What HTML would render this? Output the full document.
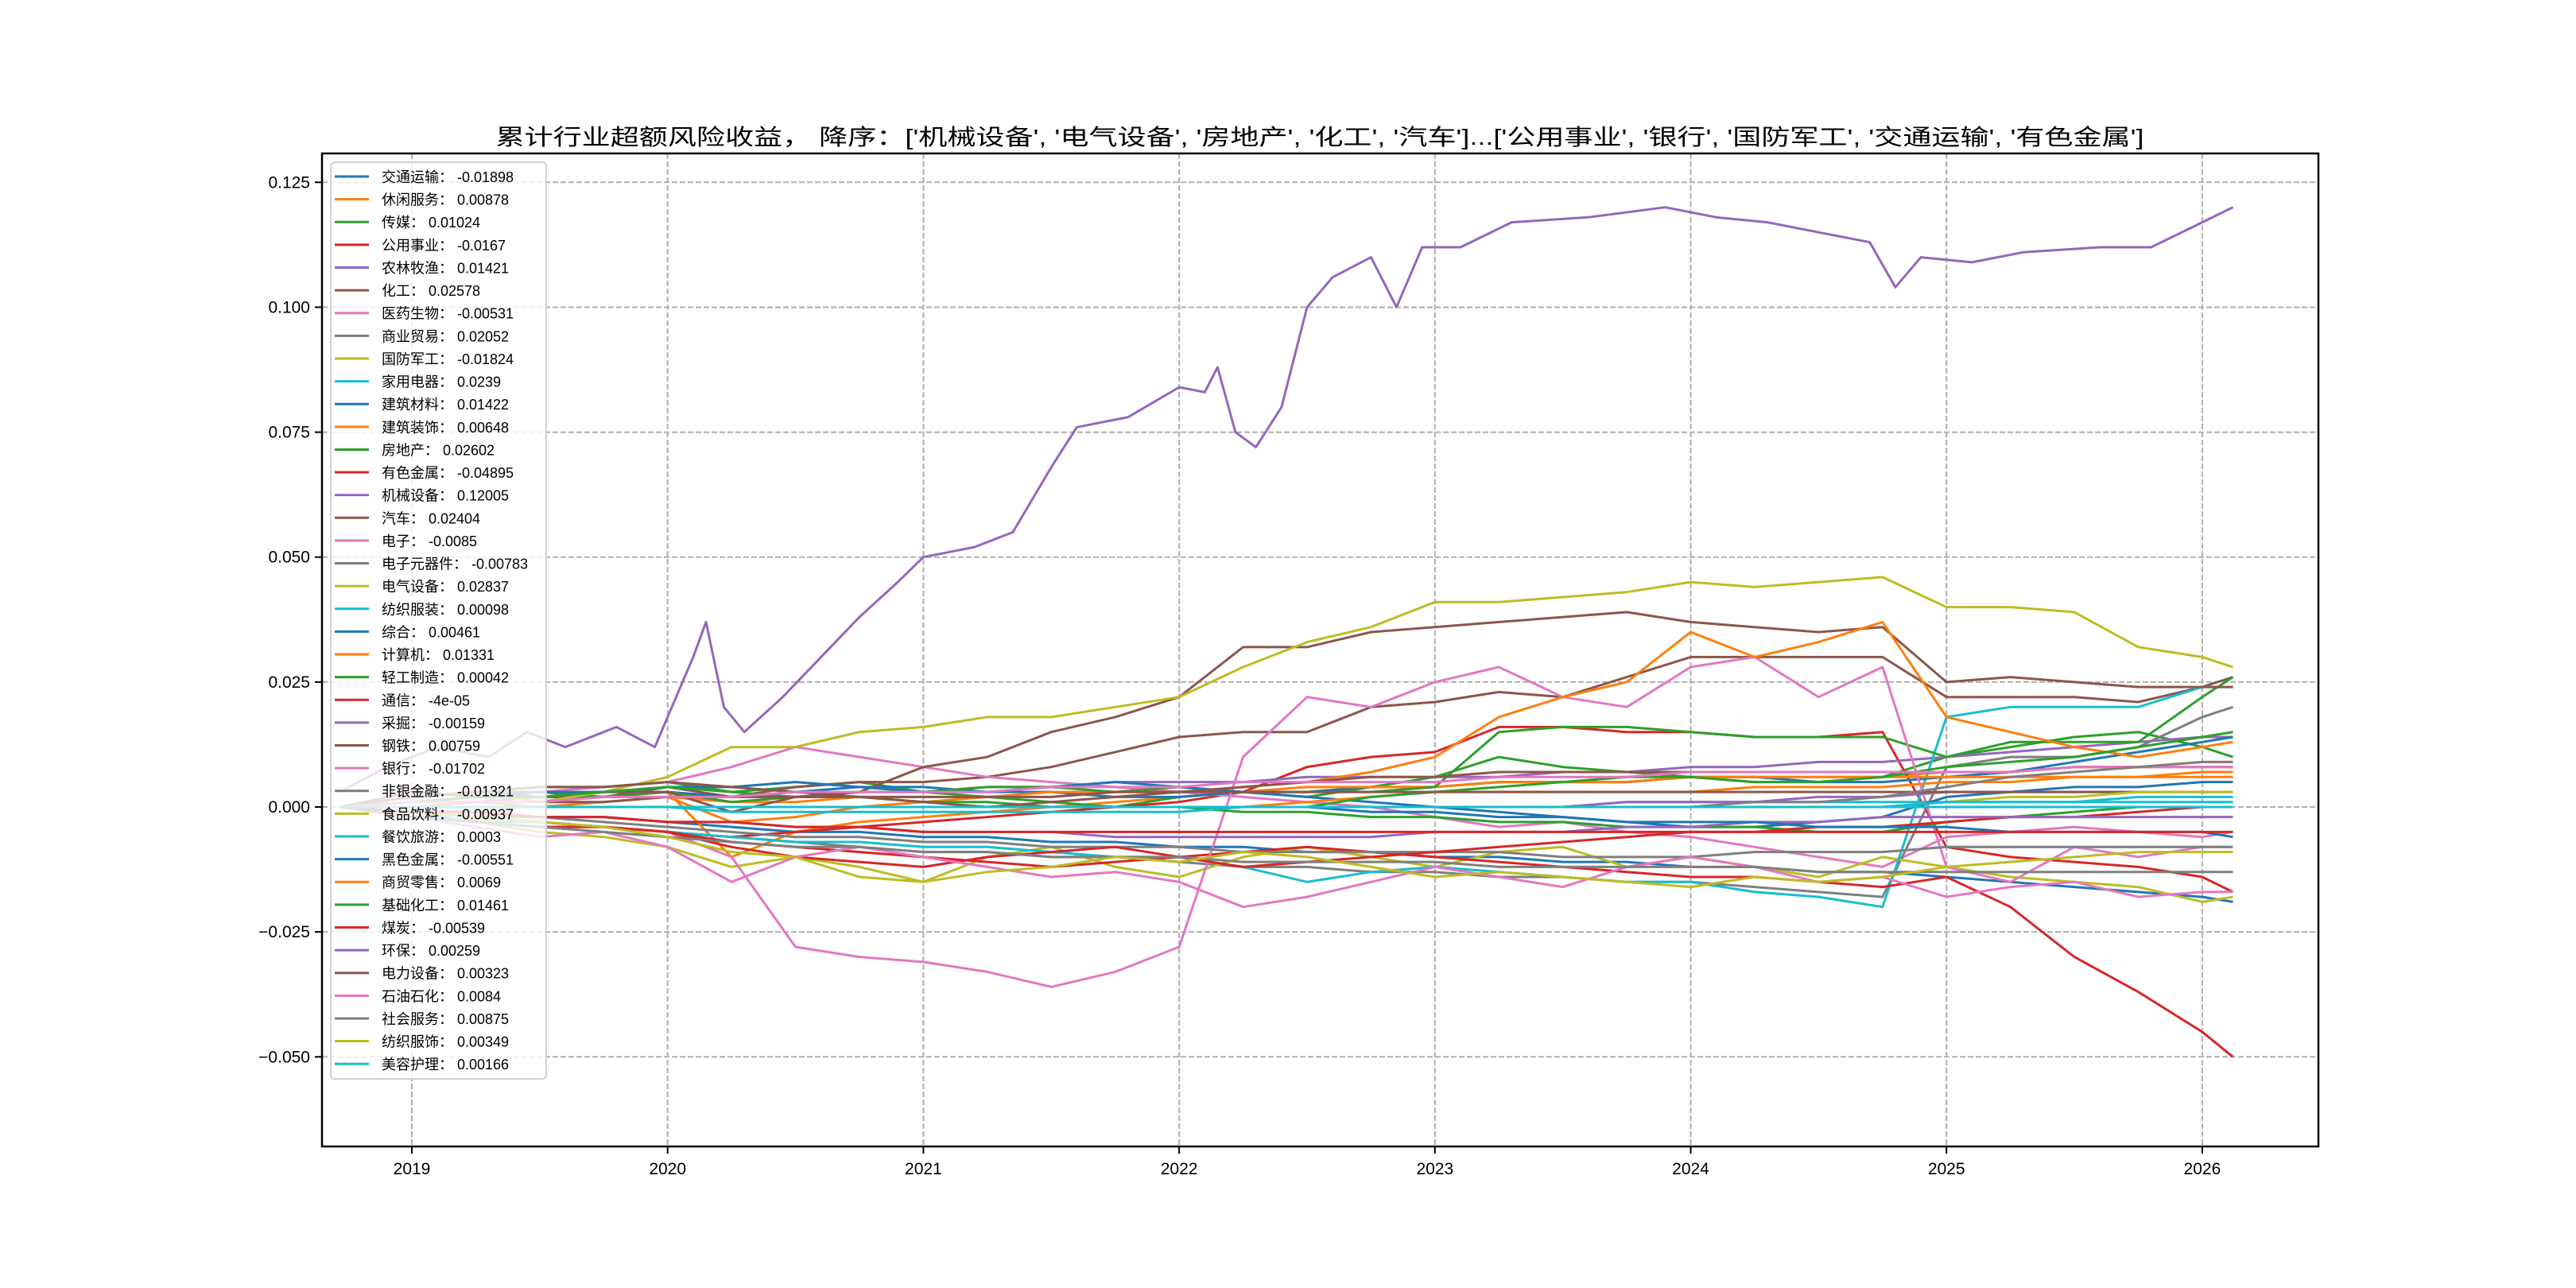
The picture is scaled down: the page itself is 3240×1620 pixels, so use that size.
<!DOCTYPE html>
<html><head><meta charset="utf-8"><style>
html,body{margin:0;padding:0;background:#fff;}
svg{display:block;}
text{font-family:"Liberation Sans","Noto Sans CJK SC","WenQuanYi Zen Hei",sans-serif;}
</style></head><body>
<svg id="chart" xmlns="http://www.w3.org/2000/svg" width="3240" height="1620" viewBox="0 0 3240 1620">
<rect x="0" y="0" width="3240" height="1620" fill="#fff"/>
<text x="1660" y="182" text-anchor="middle" font-size="28" textLength="2073" lengthAdjust="spacingAndGlyphs">累计行业超额风险收益，  降序：['机械设备', '电气设备', '房地产', '化工', '汽车']...['公用事业', '银行', '国防军工', '交通运输', '有色金属']</text>
<g id="grid"></g>
<g id="series"></g>
<rect x="405" y="193" width="2511" height="1249" fill="none" stroke="#000" stroke-width="2.5"/>
<g id="axes"></g>
<g id="legend"></g>
</svg>
<script>
// dates (decimal years) shared by most series
const dates = [2018.72,2019.0,2019.25,2019.5,2019.75,2020.0,2020.25,2020.5,2020.75,2021.0,2021.25,2021.5,2021.75,2022.0,2022.25,2022.5,2022.75,2023.0,2023.25,2023.5,2023.75,2024.0,2024.25,2024.5,2024.75,2025.0,2025.25,2025.5,2025.75,2026.0,2026.12];
// finer dates for the machinery series
const dates14 = [2018.72,2018.9,2019.1,2019.3,2019.45,2019.6,2019.8,2019.95,2020.1,2020.15,2020.22,2020.3,2020.45,2020.6,2020.75,2020.9,2021.0,2021.2,2021.35,2021.5,2021.6,2021.8,2022.0,2022.1,2022.15,2022.22,2022.3,2022.4,2022.5,2022.6,2022.75,2022.85,2022.95,2023.1,2023.3,2023.6,2023.9,2024.1,2024.3,2024.5,2024.7,2024.8,2024.9,2025.1,2025.3,2025.6,2025.8,2026.0,2026.12];
const names = ['交通运输','休闲服务','传媒','公用事业','农林牧渔','化工','医药生物','商业贸易','国防军工','家用电器','建筑材料','建筑装饰','房地产','有色金属','机械设备','汽车','电子','电子元器件','电气设备','纺织服装','综合','计算机','轻工制造','通信','采掘','钢铁','银行','非银金融','食品饮料','餐饮旅游','黑色金属','商贸零售','基础化工','煤炭','环保','电力设备','石油石化','社会服务','纺织服饰','美容护理'];
const finals = ['-0.01898','0.00878','0.01024','-0.0167','0.01421','0.02578','-0.00531','0.02052','-0.01824','0.0239','0.01422','0.00648','0.02602','-0.04895','0.12005','0.02404','-0.0085','-0.00783','0.02837','0.00098','0.00461','0.01331','0.00042','-4e-05','-0.00159','0.00759','-0.01702','-0.01321','-0.00937','0.0003','-0.00551','0.0069','0.01461','-0.00539','0.00259','0.00323','0.0084','0.00875','0.00349','0.00166'];
// series values in thousandths (x 0.001)
const s0 = [0,-1,-1,-2,-2,-3,-4,-5,-5,-6,-6,-7,-7,-8,-8,-9,-9,-10,-10,-11,-11,-12,-12,-13,-13,-14,-15,-16,-17,-18,-19];
const s1 = [0,1,2,2,3,3,-10,-5,-3,-2,-1,0,1,2,3,3,4,4,5,5,5,6,6,6,6,7,7,8,8,9,9];
const s2 = [0,2,3,4,4,5,3,4,5,3,2,1,0,2,3,2,4,6,10,8,7,6,5,5,6,10,12,14,15,12,10];
const s3 = [0,-2,-3,-4,-4,-5,-6,-5,-4,-3,-2,-1,0,1,3,8,10,11,16,16,15,15,14,14,15,-8,-10,-11,-12,-14,-17];
const s4 = [0,1,1,2,2,3,2,2,3,3,4,4,5,5,5,6,6,6,6,7,7,8,8,9,9,10,11,12,13,14,14];
const s5 = [0,2,3,2,2,4,2,4,5,5,6,8,11,14,15,15,20,21,23,22,26,30,30,30,30,22,22,22,21,24,26];
const s6 = [0,1,2,3,4,5,8,12,10,8,6,5,4,3,2,1,0,-2,-4,-3,-5,-6,-8,-10,-12,-6,-5,-4,-5,-6,-5];
const s7 = [0,-1,-2,-3,-4,-5,-6,-7,-8,-9,-9,-10,-10,-11,-12,-12,-13,-13,-14,-14,-15,-15,-16,-17,-18,8,10,10,12,18,20];
const s8 = [0,-2,-3,-5,-6,-8,-12,-10,-12,-15,-10,-8,-12,-14,-10,-8,-10,-12,-9,-8,-12,-10,-12,-14,-10,-12,-14,-15,-16,-19,-18];
const s9 = [0,-1,-3,-3,-4,-5,-6,-7,-7,-8,-8,-9,-10,-10,-12,-15,-13,-12,-13,-14,-15,-15,-17,-18,-20,18,20,20,20,24,24];
const s10 = [0,1,2,2,3,3,2,3,4,4,3,3,2,2,3,3,4,4,5,5,5,6,6,5,5,6,7,9,11,13,14];
const s11 = [0,0,1,1,2,2,1,1,2,2,2,3,3,3,3,4,4,4,5,5,5,6,6,6,6,6,6,6,6,6,6];
const s12 = [0,2,3,3,2,3,1,2,3,3,4,4,3,4,3,3,3,4,15,16,16,15,14,14,14,10,13,13,13,22,26];
const s13 = [0,-2,-3,-4,-4,-5,-7,-8,-9,-10,-11,-12,-11,-10,-9,-8,-9,-10,-11,-12,-13,-14,-14,-15,-16,-14,-20,-30,-37,-45,-50];
const s14 = [3,8,12,10,15,12,16,12,30,37,20,15,22,30,38,45,50,52,55,68,76,78,84,83,88,75,72,80,100,106,110,100,112,112,117,118,120,118,117,115,113,104,110,109,111,112,112,117,120];
const s15 = [0,3,2,2,3,3,-1,2,3,8,10,15,18,22,32,32,35,36,37,38,39,37,36,35,36,25,26,25,24,24,24];
const s16 = [0,0,-2,-3,-4,-5,-10,-28,-30,-31,-33,-36,-33,-28,10,22,20,25,28,22,20,28,30,22,28,-12,-15,-8,-10,-8,-8];
const s17 = [0,-1,-2,-2,-3,-4,-5,-6,-6,-7,-7,-8,-8,-8,-9,-9,-9,-9,-9,-10,-10,-10,-9,-9,-9,-8,-8,-8,-8,-8,-8];
const s18 = [0,2,3,1,3,6,12,12,15,16,18,18,20,22,28,33,36,41,41,42,43,45,44,45,46,40,40,39,32,30,28];
const s19 = [0,0,0,0,0,0,0,0,0,0,0,0,0,0,0,0,0,0,0,0,1,1,1,1,1,1,1,1,1,1,1];
const s20 = [0,1,2,3,3,4,4,5,4,3,3,4,5,4,3,2,1,0,-1,-2,-3,-4,-4,-3,-2,2,3,4,4,5,5];
const s21 = [0,0,1,0,1,2,-3,-2,0,1,2,2,3,3,4,5,7,10,18,22,25,35,30,33,37,18,15,12,10,12,13];
const s22 = [0,1,2,2,3,4,3,2,2,1,1,0,0,0,-1,-1,-2,-2,-3,-3,-4,-4,-4,-5,-5,-3,-2,-1,0,0,0];
const s23 = [0,-1,-2,-3,-4,-5,-8,-10,-11,-12,-10,-9,-8,-10,-12,-11,-10,-9,-8,-7,-6,-5,-5,-4,-4,-3,-2,-2,-1,0,0];
const s24 = [0,-1,-1,-2,-2,-3,-3,-4,-4,-5,-5,-5,-6,-6,-6,-6,-6,-5,-5,-5,-4,-4,-3,-3,-2,-2,-2,-2,-2,-2,-2];
const s25 = [0,2,3,4,4,5,4,3,2,1,0,1,2,3,4,5,6,6,7,7,7,7,7,7,7,7,7,8,8,8,8];
const s26 = [0,-2,-4,-6,-5,-8,-15,-10,-8,-10,-12,-14,-13,-15,-20,-18,-15,-12,-14,-16,-12,-10,-12,-15,-14,-18,-16,-15,-18,-17,-17];
const s27 = [0,-2,-3,-4,-5,-6,-7,-8,-8,-9,-9,-10,-10,-10,-11,-11,-11,-11,-12,-12,-12,-12,-12,-13,-13,-13,-13,-13,-13,-13,-13];
const s28 = [0,-1,-2,-3,-4,-6,-9,-10,-14,-15,-13,-12,-10,-11,-9,-10,-12,-14,-13,-14,-15,-16,-14,-15,-14,-12,-11,-10,-9,-9,-9];
const s29 = [0,0,0,0,0,0,-1,-1,-1,-1,-1,-1,-1,-1,0,0,0,0,0,0,0,0,0,0,0,0,0,0,0,0,0];
const s30 = [0,0,0,0,0,0,0,0,0,0,0,0,0,0,0,0,-1,-1,-2,-2,-3,-3,-3,-4,-4,-4,-5,-5,-5,-5,-6];
const s31 = [0,0,0,0,0,0,0,0,0,0,0,0,0,0,0,1,2,3,3,3,3,3,4,4,4,5,5,6,6,7,7];
const s32 = [0,0,0,0,0,0,0,0,0,0,0,0,0,0,0,0,2,3,4,5,6,6,5,5,6,8,9,10,12,14,15];
const s33 = [0,-1,-1,-2,-2,-3,-3,-4,-4,-5,-5,-5,-5,-5,-5,-5,-5,-5,-5,-5,-5,-5,-5,-5,-5,-5,-5,-5,-5,-5,-5];
const s34 = [0,0,0,0,0,0,0,0,0,0,0,0,0,0,0,0,0,0,0,0,1,1,1,2,2,3,3,3,3,3,3];
const s35 = [0,1,1,1,1,2,2,2,2,2,2,2,3,3,3,3,3,3,3,3,3,3,3,3,3,3,3,3,3,3,3];
const s36 = [0,1,1,1,2,2,2,3,3,3,3,4,4,4,5,5,5,5,6,6,6,7,7,7,7,7,7,8,8,8,8];
const s37 = [0,0,0,0,0,0,0,0,0,0,0,0,0,0,0,0,0,0,0,0,0,0,1,1,2,4,6,7,8,9,9];
const s38 = [0,0,0,0,0,0,0,0,0,0,0,0,0,0,0,0,0,0,0,0,0,0,0,0,0,1,2,2,3,3,3];
const s39 = [0,0,0,0,0,0,0,0,0,0,0,0,0,0,0,0,0,0,0,0,0,0,0,0,0,1,1,1,2,2,2];
const yTicks = [0.125,0.100,0.075,0.050,0.025,0.000,-0.025,-0.050];
const yTickLabels = ['0.125','0.100','0.075','0.050','0.025','0.000','−0.025','−0.050'];
const xTicks = [2019,2020,2021,2022,2023,2024,2025,2026];

const allSeries = [s0,s1,s2,s3,s4,s5,s6,s7,s8,s9,s10,s11,s12,s13,s14,s15,s16,s17,s18,s19,s20,s21,s22,s23,s24,s25,s26,s27,s28,s29,s30,s31,s32,s33,s34,s35,s36,s37,s38,s39];
const colors = ['#1f77b4','#ff7f0e','#2ca02c','#d62728','#9467bd','#8c564b','#e377c2','#7f7f7f','#bcbd22','#17becf'];
const NS = 'http://www.w3.org/2000/svg';
const L=405,R=2916,T=193,B=1442;
function xs(yr){return 518 + (yr-2019)*321.7;}
function ys(v){return 1015 - v/0.025*157.14;}

const grid=document.getElementById('grid'), axes=document.getElementById('axes');
yTicks.forEach((t,i)=>{
  const y=ys(t);
  const g=document.createElementNS(NS,'line');
  g.setAttribute('x1',L);g.setAttribute('x2',R);g.setAttribute('y1',y);g.setAttribute('y2',y);
  g.setAttribute('stroke','#b0b0b0');g.setAttribute('stroke-width','2');g.setAttribute('stroke-dasharray','7,3');
  
  
  grid.appendChild(g);
  const tk=document.createElementNS(NS,'line');
  tk.setAttribute('x1',L-9);tk.setAttribute('x2',L);tk.setAttribute('y1',y);tk.setAttribute('y2',y);
  tk.setAttribute('stroke','#000');tk.setAttribute('stroke-width','2');
  
  
  axes.appendChild(tk);
  const tx=document.createElementNS(NS,'text');
  tx.setAttribute('x',L-15);tx.setAttribute('y',y+7);tx.setAttribute('text-anchor','end');tx.setAttribute('font-size','21');
  tx.textContent=yTickLabels[i];
  
  
  axes.appendChild(tx);
});
xTicks.forEach(t=>{
  const x=xs(t);
  const g=document.createElementNS(NS,'line');
  g.setAttribute('x1',x);g.setAttribute('x2',x);g.setAttribute('y1',T);g.setAttribute('y2',B);
  g.setAttribute('stroke','#b0b0b0');g.setAttribute('stroke-width','2');g.setAttribute('stroke-dasharray','7,3');
  
  
  grid.appendChild(g);
  const tk=document.createElementNS(NS,'line');
  tk.setAttribute('x1',x);tk.setAttribute('x2',x);tk.setAttribute('y1',B);tk.setAttribute('y2',B+9);
  tk.setAttribute('stroke','#000');tk.setAttribute('stroke-width','2');
  
  
  axes.appendChild(tk);
  const tx=document.createElementNS(NS,'text');
  tx.setAttribute('x',x);tx.setAttribute('y',B+35);tx.setAttribute('text-anchor','middle');tx.setAttribute('font-size','21');
  tx.textContent=String(t);
  
  
  axes.appendChild(tx);
});

const sg=document.getElementById('series');
allSeries.forEach((vals,i)=>{
  const d = (i===14) ? dates14 : dates;
  const pts=vals.map((v,k)=>xs(d[k]).toFixed(1)+','+ys(v/1000).toFixed(1)).join(' ');
  const p=document.createElementNS(NS,'polyline');
  p.setAttribute('points',pts);p.setAttribute('fill','none');
  p.setAttribute('stroke',colors[i%10]);p.setAttribute('stroke-width','3');p.setAttribute('stroke-linejoin','round');
  
  
  sg.appendChild(p);
});

const lg=document.getElementById('legend');
const box=document.createElementNS(NS,'rect');
box.setAttribute('x',416);box.setAttribute('y',204);box.setAttribute('width',271);box.setAttribute('height',1153);
box.setAttribute('rx',5);box.setAttribute('fill','#fff');box.setAttribute('fill-opacity','0.8');box.setAttribute('stroke','#d0d0d0');box.setAttribute('stroke-width','2');


lg.appendChild(box);
names.forEach((n,i)=>{
  const cy=222+i*28.62;
  const ln=document.createElementNS(NS,'line');
  ln.setAttribute('x1',421);ln.setAttribute('x2',464);ln.setAttribute('y1',cy);ln.setAttribute('y2',cy);
  ln.setAttribute('stroke',colors[i%10]);ln.setAttribute('stroke-width','3');
  
  
  lg.appendChild(ln);
  const tx=document.createElementNS(NS,'text');
  tx.setAttribute('x',480);tx.setAttribute('y',cy+7);tx.setAttribute('font-size','18');
  tx.textContent=n+'： '+finals[i];
  
  
  lg.appendChild(tx);
});
</script>
</body></html>
